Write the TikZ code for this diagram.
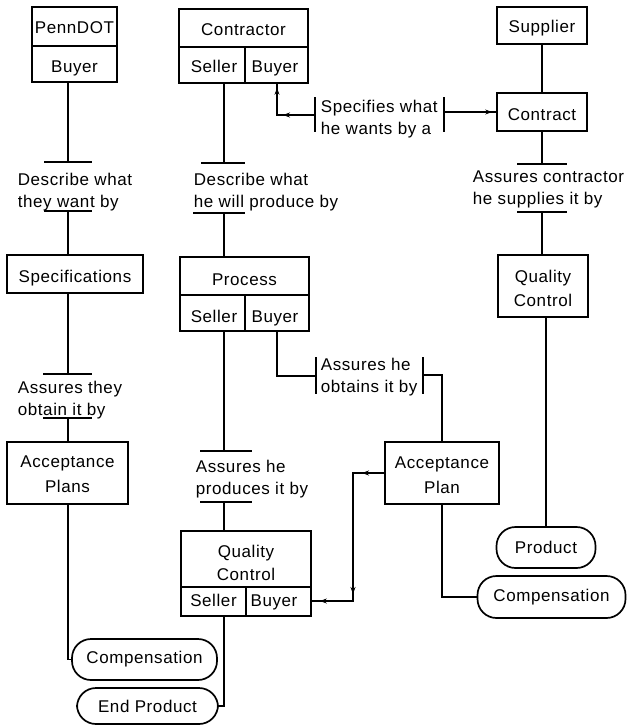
\documentclass[tikz,border=0pt]{standalone}
\usepackage{fontspec}
\setmainfont{Liberation Sans}[LetterSpace=3.5]
\usetikzlibrary{arrows.meta,calc}
\newcommand{\dgf}{\fontsize{17}{22}\selectfont}
\begin{document}
\begin{tikzpicture}[x=1pt,y=-1pt,line width=1.7pt,
  box/.style={draw,rectangle,inner sep=0pt},
  stad/.style={draw,rectangle,rounded corners=19pt,inner sep=0pt,font=\dgf},
  txt/.style={anchor=base,inner sep=0pt,font=\dgf},
  lbl/.style={anchor=west,inner sep=0pt,font=\dgf,align=left},
  tip/.style={-{Stealth[length=7pt,width=5pt]}}]
\fill[white] (0,0) rectangle (627,725);
\useasboundingbox (0,0) rectangle (627,725);

% ---------- boxes ----------
\node[box,minimum width=85pt,minimum height=75pt] (pd) at (74.5,44.5) {};
\draw (32,46) -- (117,46);
\node[txt] (pdT) at (74.5,34) {PennDOT};
\node[txt] (pdB) at (74.5,72) {Buyer};

\node[box,minimum width=129pt,minimum height=74pt] (ctr) at (243.5,46) {};
\draw (179,47) -- (308,47);
\draw (245,47) -- (245,83);
\node[txt] (ctrT) at (243.5,36) {Contractor};
\node[txt] (ctrS) at (214,73) {Seller};
\node[txt] (ctrB) at (275,73) {Buyer};

\node[box,minimum width=90pt,minimum height=37pt] (sup) at (542,25.5) {};
\node[txt] (supT) at (542,33) {Supplier};
\node[box,minimum width=90pt,minimum height=38pt] (cont) at (542,112) {};
\node[txt] (contT) at (542,120) {Contract};

\node[box,minimum width=136pt,minimum height=38pt] (spec) at (75,274) {};
\node[txt] (specT) at (75,282) {Specifications};

\node[box,minimum width=129pt,minimum height=74pt] (proc) at (244.5,294) {};
\draw (180,295) -- (309,295);
\draw (245,295) -- (245,331);
\node[txt] (procT) at (244.5,285) {Process};
\node[txt] (procS) at (214,322) {Seller};
\node[txt] (procB) at (275,322) {Buyer};

\node[box,minimum width=90pt,minimum height=62pt] (qcr) at (543,286) {};
\node[txt] (qcrA) at (543,282) {Quality};
\node[txt] (qcrB) at (543,306) {Control};

\node[box,minimum width=121pt,minimum height=62pt] (accs) at (67.5,473) {};
\node[txt] (accsA) at (67.5,467) {Acceptance};
\node[txt] (accsB) at (67.5,492) {Plans};

\node[box,minimum width=114pt,minimum height=62pt] (accp) at (442,473) {};
\node[txt] (accpA) at (442,468) {Acceptance};
\node[txt] (accpB) at (442,493) {Plan};

\node[box,minimum width=130pt,minimum height=85pt] (qcm) at (246,573.5) {};
\draw (181,587) -- (311,587);
\draw (246,587) -- (246,616);
\node[txt] (qcmA) at (246,557) {Quality};
\node[txt] (qcmB) at (246,580) {Control};
\node[txt] (qcmS) at (213.5,606) {Seller};
\node[txt] (qcmU) at (274,606) {Buyer};

% ---------- rounded terminals ----------
\node[stad,minimum width=145pt,minimum height=41pt] (comp1) at (144.5,659.5) {Compensation};
\node[stad,minimum width=141pt,minimum height=36pt] (endp) at (147.5,706) {End Product};
\node[stad,minimum width=99pt,minimum height=41pt] (prod) at (546,547.5) {Product};
\node[stad,minimum width=148pt,minimum height=42pt] (comp2) at (551.5,597) {Compensation};

% ---------- labels ----------
\node[lbl] (L1) at (17,191.7) {Describe what\\they want by};
\node[lbl] (L2) at (17,399.7) {Assures they\\obtain it by};
\node[lbl] (L3) at (193,191.7) {Describe what\\he will produce by};
\node[lbl] (L4) at (320,377.5) {Assures he\\obtains it by};
\node[lbl] (L5) at (195,479) {Assures he\\produces it by};
\node[lbl] (L6) at (320,118.7) {Specifies what\\he wants by a};
\node[lbl] (L7) at (472,189.7) {Assures contractor\\he supplies it by};

% ---------- bar coordinates ----------
\coordinate (b1t) at (68,162);
\coordinate (b1b) at (68,211);
\coordinate (b2t) at (68,374);
\coordinate (b2b) at (68,418);
\coordinate (b3t) at (224,163);
\coordinate (b3b) at (224,213);
\coordinate (b5t) at (224,451);
\coordinate (b5b) at (224,502);
\coordinate (b7t) at (542,164);
\coordinate (b7b) at (542,212);
\coordinate (t6l) at (315,115);
\coordinate (t6r) at (444,112);
\coordinate (t4l) at (316,376);
\coordinate (t4r) at (423,375);

\draw (b1t) ++(-24,0) -- ++(48,0);
\draw (b1b) ++(-24,0) -- ++(48,0);
\draw (b2t) ++(-25,0) -- ++(49,0);
\draw (b2b) ++(-25,0) -- ++(49,0);
\draw (b3t) ++(-23,0) -- ++(44,0);
\draw (b3b) ++(-31,0) -- ++(52,0);
\draw (b5t) ++(-24,0) -- ++(52,0);
\draw (b5b) ++(-24,0) -- ++(52,0);
\draw (b7t) ++(-25,0) -- ++(50,0);
\draw (b7b) ++(-25,0) -- ++(50,0);
\draw (t6l) ++(0,-18) -- ++(0,35);
\draw (t6r) ++(0,-15) -- ++(0,35);
\draw (t4l) ++(0,-19) -- ++(0,37);
\draw (t4r) ++(0,-18) -- ++(0,37);

% ---------- connectors ----------
\draw (pd.south -| b1t) -- (b1t);
\draw (b1b) -- (spec.north -| b1b);
\draw (spec.south -| b2t) -- (b2t);
\draw (b2b) -- (accs.north -| b2b);
\draw (accs.south -| b2b) |- (comp1.west);

\draw (ctr.south -| b3t) -- (b3t);
\draw (b3b) -- (proc.north -| b3b);
\draw (proc.south -| b5t) -- (b5t);
\draw (b5b) -- (qcm.north -| b5b);
\draw (qcm.south -| b5b) |- (endp.east);

\draw (sup.south) -- (cont.north);
\draw (cont.south -| b7t) -- (b7t);
\draw (b7b) -- (qcr.north -| b7b);
\draw (qcr.south -| prod.north) -- (prod.north);

% contractor buyer <- contract spec
\coordinate (c6) at (277,115);
\coordinate (c7) at (ctr.south -| c6);
\draw (t6l) -- (c6) -- (c7);
\draw[tip] (t6l) -- ([xshift=6pt]c6);
\draw[tip] (c6) -- ([yshift=-4pt]c7);
\coordinate (c8) at (cont.west |- t6r);
\draw (t6r) -- (c8);
\draw[tip] (t6r) -- ([xshift=-4pt]c8);

% process buyer -> acceptance plan
\coordinate (pbx) at (277,376);
\draw (proc.south -| pbx) |- (t4l);
\draw (t4r) -| (accp.north);
\draw (accp.south) |- (comp2.west);

% acceptance plan -> QC buyer
\coordinate (c9) at (353,473);
\coordinate (c10) at (353,601);
\coordinate (c11) at (qcm.east |- c10);
\draw (accp.west) -- (c9) -- (c10) -- (c11);
\draw[tip] (accp.west) -- ([xshift=9pt]c9);
\draw[tip] (c9) -- ([yshift=7pt]c10);
\draw[tip] (c10) -- ([xshift=8pt]c11);
\end{tikzpicture}
\end{document}
